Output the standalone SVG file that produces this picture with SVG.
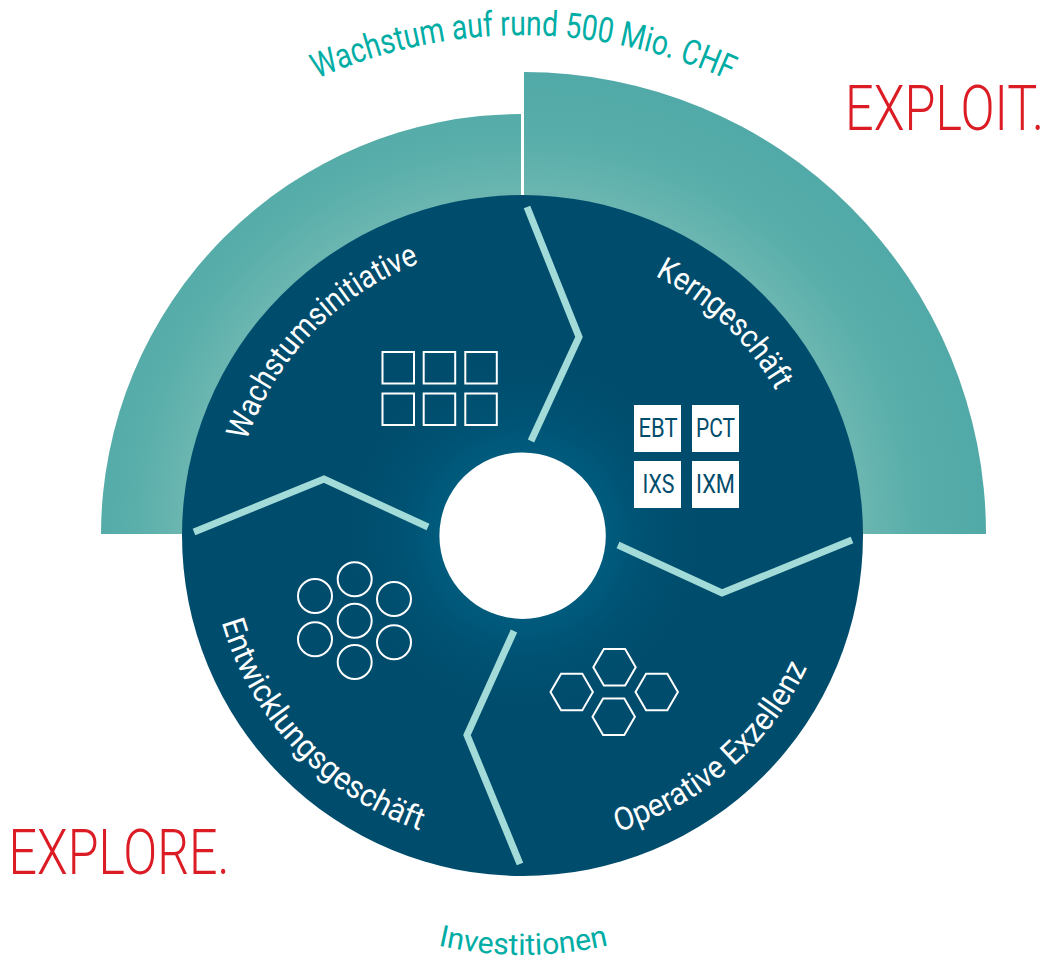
<svg xmlns="http://www.w3.org/2000/svg" width="1050" height="961" viewBox="0 0 1050 961">
<style>
.l{font-family:"Roboto","Liberation Sans",sans-serif}
.in{font-size:32px;fill:#fff}
.out{font-size:35px;fill:#00ada5}
.big{font-size:63px;fill:#dc1c25;font-family:"Roboto","Liberation Sans",sans-serif;font-weight:350}
.box{fill:#fff}
.bt{font-size:25px;fill:#004c6c;font-family:"Roboto","Liberation Sans",sans-serif;text-anchor:middle}
.sep{fill:none;stroke:#a3dbd9;stroke-width:7}
.ic{fill:none;stroke:#fff;stroke-width:2}
</style>
<defs>
<radialGradient id="gt" gradientUnits="userSpaceOnUse" cx="523" cy="534" r="462"><stop offset=".73" stop-color="#6cb6b1"/><stop offset=".84" stop-color="#5aafab"/><stop offset=".92" stop-color="#54aba8"/><stop offset="1" stop-color="#52aaa8"/></radialGradient>
<radialGradient id="gd" gradientUnits="userSpaceOnUse" cx="523" cy="535" r="341"><stop offset=".243" stop-color="#005b7d"/><stop offset=".37" stop-color="#005172"/><stop offset=".52" stop-color="#004c6c"/><stop offset="1" stop-color="#004c6c"/></radialGradient>
<path id="p1" d="M317 79A499 499 0 0 1 730 81"/>
<path id="p2" d="M246.500 441A291 291 0 0 1 418.300 263.500"/>
<path id="p3" d="M655 276A291 291 0 0 1 776 391"/>
<path id="p4" d="M617.900 832A312 312 0 0 0 806.500 668.800"/>
<path id="p5" d="M221.500 622A313 313 0 0 0 422.200 831.400"/>
<path id="p6" d="M438 945.500A385 385 0 0 0 608 945.500"/>
<polygon id="hex" points="-21.2,0 -10.6,-18.3 10.6,-18.3 21.2,0 10.6,18.3 -10.6,18.3"/>
<rect id="sq" width="31.500" height="31.500"/>
<circle id="ci" r="17"/>
</defs>
<g id="growth-band"><path d="M521 114A421 421 0 0 0 101 534H521Z" fill="url(#gt)"/></g>
<g id="core-band"><path d="M524 72A462 462 0 0 1 986 534H524Z" fill="url(#gt)"/></g>
<g id="disk"><circle cx="522.500" cy="535.500" r="340.500" fill="url(#gd)"/><circle cx="522.600" cy="535.700" r="83.200" fill="#fff"/></g>
<g id="connectors">
<polyline class="sep" points="527,207 579,337 531,441"/>
<polyline class="sep" points="618,545 722,593 852,540"/>
<polyline class="sep" points="514,631 467,735 520,864"/>
<polyline class="sep" points="428,527 324,479 194,532"/>
</g>
<g id="wachstumsinitiative">
<text class="l in"><textPath href="#p2" textLength="256" lengthAdjust="spacingAndGlyphs">Wachstumsinitiative</textPath></text>
<g class="ic"><use href="#sq" x="382.500" y="352"/><use href="#sq" x="423.700" y="352"/><use href="#sq" x="465.300" y="352"/><use href="#sq" x="382.500" y="393.500"/><use href="#sq" x="423.700" y="393.500"/><use href="#sq" x="465.300" y="393.500"/></g>
</g>
<g id="kerngeschaeft">
<text class="l in"><textPath href="#p3" textLength="169" lengthAdjust="spacingAndGlyphs">Kerngeschäft</textPath></text>
<rect class="box" x="634" y="405" width="47" height="47"/><rect class="box" x="692" y="405" width="47" height="47"/><rect class="box" x="634" y="461" width="47" height="47"/><rect class="box" x="692" y="461" width="47" height="47"/>
<text class="bt" x="658" y="437" textLength="39" lengthAdjust="spacingAndGlyphs">EBT</text>
<text class="bt" x="715.500" y="437" textLength="39" lengthAdjust="spacingAndGlyphs">PCT</text>
<text class="bt" x="658.500" y="493" textLength="32" lengthAdjust="spacingAndGlyphs">IXS</text>
<text class="bt" x="715.500" y="493" textLength="39" lengthAdjust="spacingAndGlyphs">IXM</text>
</g>
<g id="operative-exzellenz">
<text class="l in"><textPath href="#p4" textLength="258" lengthAdjust="spacingAndGlyphs">Operative Exzellenz</textPath></text>
<g class="ic"><use href="#hex" x="614.500" y="667.300"/><use href="#hex" x="571.700" y="692"/><use href="#hex" x="656.700" y="692"/><use href="#hex" x="613.700" y="716.700"/></g>
</g>
<g id="entwicklungsgeschaeft">
<text class="l in"><textPath href="#p5" textLength="299" lengthAdjust="spacingAndGlyphs">Entwicklungsgeschäft</textPath></text>
<g class="ic"><use href="#ci" x="315" y="596"/><use href="#ci" x="354.700" y="579.300"/><use href="#ci" x="394" y="599"/><use href="#ci" x="354.700" y="620.700"/><use href="#ci" x="315" y="639.300"/><use href="#ci" x="394" y="642.300"/><use href="#ci" x="354.700" y="662"/></g>
</g>
<g id="labels">
<text class="l out"><textPath href="#p1" textLength="425" lengthAdjust="spacingAndGlyphs">Wachstum auf rund 500 Mio. CHF</textPath></text>
<text class="l out" style="font-size:30px"><textPath href="#p6" textLength="172" lengthAdjust="spacingAndGlyphs">Investitionen</textPath></text>
<text class="big" x="845" y="130" textLength="199" lengthAdjust="spacingAndGlyphs">EXPLOIT.</text>
<text class="big" x="8.500" y="873.500" textLength="221" lengthAdjust="spacingAndGlyphs">EXPLORE.</text>
</g>
</svg>
